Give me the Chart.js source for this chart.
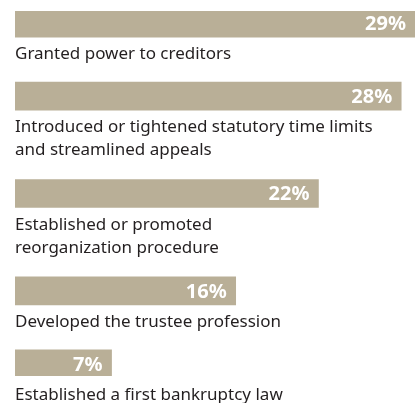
<!DOCTYPE html>
<html>
<head>
<meta charset="utf-8">
<script src="https://cdn.jsdelivr.net/npm/chart.js@4/dist/chart.umd.min.js"></script>
<style>
  html, body { margin: 0; padding: 0; background: #ffffff; }
  #wrap { width: 416px; height: 403px; }
</style>
</head>
<body>
<div id="wrap"><canvas id="reforms" width="416" height="403"></canvas></div>
<script>
// each label is a list of its printed lines
const categories = [
    ["Granted power to creditors"],
    ["Introduced or tightened statutory time limits", "and streamlined appeals"],
    ["Established or promoted", "reorganization procedure"],
    ["Developed the trustee profession"],
    ["Established a first bankruptcy law"]
]
const shares = [29, 28, 22, 16, 7]
const valueLabels = ["29%", "28%", "22%", "16%", "7%"]

const barColor = "#b9af97"
const textColor = "#231f20"

// the y axis gets one slot per bar plus spare slots for the text lines under it
var slotLabels = []
var slotValues = []
var slotOwner = []
categories.forEach((lines, i) => {
    slotLabels.push("bar" + i)
    slotValues.push(shares[i])
    slotOwner.push(i)
    if (i < categories.length - 1) {
        for (var k = 0; k < lines.length + 1; k++) {
            slotLabels.push("gap" + i + "_" + k)
            slotValues.push(null)
            slotOwner.push(-1)
        }
    }
})

const barText = {
    id: "barText",
    afterDatasetsDraw(chart) {
        const ctx = chart.ctx
        const meta = chart.getDatasetMeta(0)
        ctx.save()
        meta.data.forEach((bar, idx) => {
            var i = slotOwner[idx]
            if (i < 0 || slotValues[idx] == null) return
            var half = bar.height / 2
            // value inside the bar end
            ctx.fillStyle = "#ffffff"
            ctx.font = "bold 20px 'Noto Sans'"
            ctx.textAlign = "right"
            ctx.textBaseline = "middle"
            ctx.fillText(valueLabels[i], bar.x - 9, bar.y + 1)
            // category text below the bar
            ctx.fillStyle = textColor
            ctx.font = "17px 'Noto Sans'"
            ctx.textAlign = "left"
            ctx.textBaseline = "alphabetic"
            categories[i].forEach((line, n) => {
                ctx.fillText(line, chart.chartArea.left, bar.y + half + 22 + n * 23)
            })
        })
        ctx.restore()
    }
}

new Chart(document.getElementById("reforms"), {
    type: "bar",
    data: {
        labels: slotLabels,
        datasets: [{
            data: slotValues,
            backgroundColor: barColor,
            borderWidth: 0,
            barThickness: 28
        }]
    },
    options: {
        indexAxis: "y",
        responsive: false,
        animation: false,
        layout: { padding: { left: 15, right: 1, top: 11, bottom: 27 } },
        scales: {
            x: { display: false, min: 0, max: 29 },
            y: { display: false }
        },
        plugins: {
            legend: { display: false },
            tooltip: { enabled: false }
        }
    },
    plugins: [barText]
})
</script>
</body>
</html>
